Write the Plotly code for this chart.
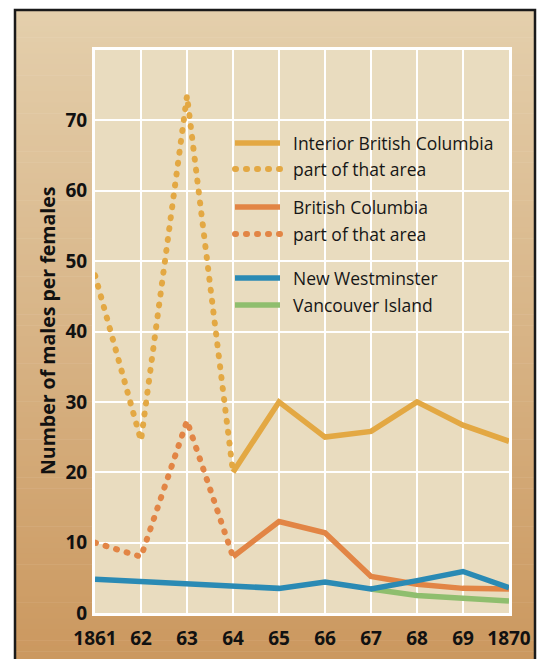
import plotly.graph_objects as go

# ---- data -------------------------------------------------------------
years = [1861, 1862, 1863, 1864, 1865, 1866, 1867, 1868, 1869, 1870]
year_labels = ["1861", "62", "63", "64", "65", "66", "67", "68", "69", "1870"]
y_ticks = [0, 10, 20, 30, 40, 50, 60, 70]

# Interior British Columbia: early years cover only part of that area
interior_part_years = [1861, 1862, 1863, 1864]
interior_part = [48.0, 24.5, 73.5, 20.0]
interior_years = [1864, 1865, 1866, 1867, 1868, 1869, 1870]
interior = [20.0, 30.0, 25.0, 25.8, 30.0, 26.7, 24.4]

# British Columbia: early years cover only part of that area
bc_part_years = [1861, 1862, 1863, 1864]
bc_part = [10.0, 8.0, 27.3, 8.0]
bc_years = [1864, 1865, 1866, 1867, 1868, 1869, 1870]
bc = [8.0, 13.0, 11.4, 5.2, 4.1, 3.5, 3.4]

new_westminster = [4.8, 4.5, 4.2, 3.9, 3.5, 4.4, 3.4, 4.6, 5.9, 3.6]

vi_years = [1867, 1868, 1869, 1870]
vancouver_island = [3.4, 2.5, 2.1, 1.7]

legend_labels = [
    "Interior British Columbia", "part of that area",
    "British Columbia", "part of that area",
    "New Westminster", "Vancouver Island",
]

# ---- styling ----------------------------------------------------------
YELLOW = "#e3a843"
ORANGE = "#e28545"
BLUE = "#2a8ab4"
GREEN = "#8fbe6e"
PLOT_BG = "#e9dcbf"
TOP_TAN = (228, 207, 172)
BOTTOM_TAN = (203, 152, 95)
FONT = "Open Sans"
DOTS = "1px,10px"

W, H = 543, 659
L, R, T, B = 95, 34, 50, 46
PW, PH = W - L - R, H - T - B


def px_x(px):
    return (px - L) / PW


def px_y(py):
    return (H - B - py) / PH


fig = go.Figure()

def add_line(x, y, color, dash="solid", width=5.5):
    fig.add_trace(go.Scatter(
        x=x, y=y, mode="lines",
        line=dict(color=color, width=width, dash=dash),
        hoverinfo="skip", showlegend=False,
    ))

add_line(interior_part_years, interior_part, YELLOW, DOTS, 6)
add_line(bc_part_years, bc_part, ORANGE, DOTS, 6)
add_line(interior_years, interior, YELLOW)
add_line(bc_years, bc, ORANGE)
add_line(vi_years, vancouver_island, GREEN)
add_line(years, new_westminster, BLUE)

shapes = []

# tan backdrop with a vertical gradient, framed in black
fx0, fx1 = px_x(15), px_x(535)
top_px, bot_px = 10, 662
n = 120
for i in range(n):
    t = i / (n - 1)
    c = tuple(round(TOP_TAN[k] + (BOTTOM_TAN[k] - TOP_TAN[k]) * t) for k in range(3))
    y_top = top_px + (bot_px - top_px) * i / n
    y_bot = top_px + (bot_px - top_px) * (i + 1) / n + 0.6
    shapes.append(dict(
        type="rect", xref="paper", yref="paper", layer="below",
        x0=fx0, x1=fx1, y0=px_y(y_bot), y1=px_y(y_top),
        line=dict(width=0), fillcolor="rgb(%d,%d,%d)" % c,
    ))

# plot-area panel
shapes.append(dict(
    type="rect", xref="x", yref="y", layer="below",
    x0=years[0], x1=years[-1], y0=0, y1=80,
    line=dict(width=0), fillcolor=PLOT_BG,
))

shapes.append(dict(
    type="rect", xref="paper", yref="paper", layer="above",
    x0=fx0, x1=fx1, y0=px_y(bot_px), y1=px_y(top_px),
    line=dict(color="#1a1a1a", width=2.5), fillcolor="rgba(0,0,0,0)",
))

# hand-placed key inside the plot
key_rows = [143, 169, 207, 234, 278, 305]
key_colors = [YELLOW, YELLOW, ORANGE, ORANGE, BLUE, GREEN]
key_dash = ["solid", DOTS, "solid", DOTS, "solid", "solid"]
annotations = []
for row, col, dash, label in zip(key_rows, key_colors, key_dash, legend_labels):
    shapes.append(dict(
        type="line", xref="paper", yref="paper", layer="above",
        x0=px_x(235), x1=px_x(280), y0=px_y(row), y1=px_y(row),
        line=dict(color=col, width=5.5 if dash == "solid" else 6, dash=dash),
    ))
    annotations.append(dict(
        xref="paper", yref="paper", x=px_x(291), y=px_y(row),
        xanchor="left", yanchor="middle", showarrow=False, text=label,
        font=dict(family=FONT, size=17.5, color="#161616", weight=500),
    ))

annotations.append(dict(
    xref="paper", yref="paper", x=px_x(47), y=px_y(331),
    xanchor="center", yanchor="middle", showarrow=False, textangle=-90,
    text="Number of males per females",
    font=dict(family=FONT, size=19.5, color="#111111", weight="bold"),
))

axis_common = dict(
    showgrid=True, gridcolor="white", gridwidth=1.5,
    showline=True, linecolor="white", linewidth=3, mirror=True,
    zeroline=False, ticks="", fixedrange=True, automargin=False,
    tickfont=dict(family=FONT, size=19, color="#111111", weight="bold"),
)

fig.update_layout(
    width=W, height=H, autosize=False,
    margin=dict(l=L, r=R, t=T, b=B, pad=0, autoexpand=False),
    paper_bgcolor="white", plot_bgcolor=PLOT_BG,
    showlegend=False,
    shapes=shapes, annotations=annotations,
    xaxis=dict(range=[years[0], years[-1]], tickvals=years, ticktext=year_labels,
               ticklabelstandoff=6, **axis_common),
    yaxis=dict(range=[0, 80], tickvals=y_ticks, ticklabelstandoff=1, **axis_common),
)

# round line caps turn the sparse dash pattern into dots
round_caps = """
var gd = document.getElementById('{plot_id}');
function roundDots() {
  gd.querySelectorAll('path').forEach(function (p) {
    var d = p.style.strokeDasharray;
    if (d && d !== 'none') { p.style.strokeLinecap = 'round'; }
  });
}
roundDots();
gd.on('plotly_afterplot', roundDots);
"""

fig.write_html("out.html", post_script=round_caps, config={"displayModeBar": False})
